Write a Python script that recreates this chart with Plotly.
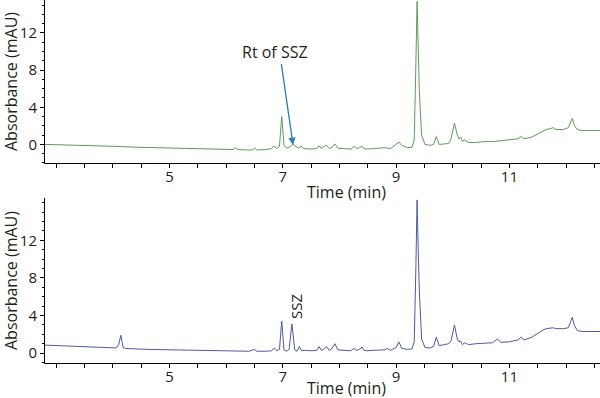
import plotly.graph_objects as go

# ---- data ----
t_top = [2.80, 3.20, 3.60, 4.00, 4.40, 4.80, 5.20, 5.60, 6.00, 6.12, 6.16, 6.20,
         6.40, 6.46, 6.50, 6.54, 6.70, 6.80, 6.85, 6.89, 6.94, 6.98, 7.02, 7.07,
         7.13, 7.18, 7.23, 7.28, 7.32, 7.36, 7.50, 7.60, 7.64, 7.68, 7.73, 7.77,
         7.82, 7.87, 7.92, 7.97, 8.05, 8.20, 8.26, 8.30, 8.35, 8.40, 8.43, 8.48,
         8.60, 8.80, 8.90, 9.00, 9.05, 9.10, 9.20, 9.28, 9.32, 9.35, 9.37, 9.39,
         9.41, 9.45, 9.51, 9.60, 9.66, 9.71, 9.76, 9.85, 9.93, 9.97, 10.03, 10.08,
         10.11, 10.14, 10.17, 10.21, 10.28, 10.40, 10.55, 10.70, 10.85, 11.00,
         11.15, 11.21, 11.26, 11.40, 11.50, 11.58, 11.65, 11.72, 11.77, 11.82,
         11.95, 12.04, 12.08, 12.11, 12.15, 12.20, 12.28, 12.60]
a_top = [0.00, -0.05, -0.15, -0.20, -0.30, -0.35, -0.40, -0.50, -0.55, -0.55, -0.35, -0.55,
         -0.60, -0.60, -0.40, -0.60, -0.55, -0.45, -0.15, -0.45, -0.20, 3.00, -0.10, -0.40,
         -0.25, 0.05, -0.25, -0.40, -0.15, -0.45, -0.50, -0.45, -0.15, -0.45, -0.20, -0.10,
         -0.45, -0.30, 0.05, -0.40, -0.45, -0.50, -0.20, -0.45, -0.35, -0.20, -0.45, -0.50,
         -0.45, -0.35, -0.45, 0.00, 0.25, -0.10, -0.35, -0.30, 0.50, 9.00, 15.40, 10.50,
         5.70, 1.00, 0.00, -0.10, 0.00, 0.85, 0.00, 0.05, 0.10, 0.60, 2.30, 1.00,
         0.60, 0.80, 0.30, 0.50, 0.20, 0.20, 0.30, 0.30, 0.40, 0.50,
         0.60, 0.85, 0.60, 0.80, 1.10, 1.40, 1.60, 1.70, 1.80, 1.60,
         1.60, 1.80, 2.40, 2.80, 2.00, 1.60, 1.50, 1.50]

t_bot = [2.80, 3.20, 3.60, 3.95, 4.06, 4.10, 4.14, 4.18, 4.22, 4.60, 5.00, 5.40,
         5.80, 6.20, 6.40, 6.50, 6.54, 6.70, 6.80, 6.85, 6.89, 6.94, 6.98, 7.02,
         7.07, 7.11, 7.16, 7.21, 7.25, 7.29, 7.33, 7.40, 7.50, 7.60, 7.64, 7.68,
         7.73, 7.77, 7.82, 7.87, 7.92, 7.97, 8.05, 8.20, 8.26, 8.30, 8.35, 8.40,
         8.43, 8.48, 8.60, 8.80, 8.84, 8.90, 9.00, 9.05, 9.10, 9.20, 9.28, 9.32,
         9.35, 9.37, 9.39, 9.41, 9.45, 9.51, 9.60, 9.66, 9.71, 9.76, 9.85, 9.93,
         9.97, 10.03, 10.08, 10.11, 10.14, 10.17, 10.21, 10.28, 10.40, 10.55, 10.70,
         10.79, 10.85, 11.00, 11.15, 11.21, 11.26, 11.40, 11.50, 11.58, 11.65, 11.72,
         11.77, 11.82, 11.95, 12.04, 12.08, 12.11, 12.15, 12.20, 12.28, 12.60]
a_bot = [0.85, 0.75, 0.65, 0.55, 0.55, 0.90, 1.90, 0.60, 0.50, 0.40, 0.35, 0.30,
         0.25, 0.20, 0.20, 0.40, 0.20, 0.20, 0.25, 0.55, 0.25, 0.40, 3.40, 0.35,
         0.20, 0.40, 3.10, 0.35, 0.20, 0.70, 0.25, 0.30, 0.25, 0.30, 0.70, 0.30,
         0.45, 0.70, 0.30, 0.50, 1.00, 0.35, 0.30, 0.25, 0.50, 0.30, 0.40, 0.65,
         0.30, 0.25, 0.30, 0.35, 0.50, 0.30, 0.60, 1.20, 0.50, 0.40, 0.45, 1.20,
         9.50, 16.30, 11.00, 6.70, 1.50, 0.60, 0.55, 0.70, 1.70, 0.80, 0.90, 1.00,
         1.30, 3.00, 1.50, 1.20, 1.30, 0.90, 1.10, 0.90, 1.00, 1.05, 1.10,
         1.50, 1.15, 1.20, 1.40, 1.70, 1.40, 1.70, 2.10, 2.40, 2.60, 2.70,
         2.70, 2.60, 2.60, 2.70, 3.40, 3.80, 2.90, 2.40, 2.30, 2.30]

y_ticks = [0, 4, 8, 12]
x_ticks = [5, 7, 9, 11]

FONT = "Open Sans"
TXT = "#231f20"

fig = go.Figure()
fig.add_trace(go.Scatter(x=t_top, y=a_top, mode="lines",
                         line=dict(color="#5f9a5c", width=1), xaxis="x", yaxis="y",
                         showlegend=False, hoverinfo="skip"))
fig.add_trace(go.Scatter(x=t_bot, y=a_bot, mode="lines",
                         line=dict(color="#4e5a9c", width=1), xaxis="x2", yaxis="y2",
                         showlegend=False, hoverinfo="skip"))

xcommon = dict(range=[2.8, 12.6], showline=True, linecolor="black", linewidth=1,
               automargin=False,
               ticks="outside", ticklen=4, tickcolor="black", tickvals=x_ticks,
               ticklabelstandoff=-4,
               minor=dict(dtick=0.5, tick0=3, ticks="outside", ticklen=4, tickcolor="black"),
               showgrid=False, zeroline=False,
               tickfont=dict(family=FONT, size=15, color=TXT))
ycommon = dict(showline=True, linecolor="black", linewidth=1,
               automargin=False,
               ticks="outside", ticklen=4, tickcolor="black", tickvals=y_ticks,
               minor=dict(dtick=1, tick0=0, ticks="outside", ticklen=2, tickcolor="black"),
               showgrid=False, zeroline=False,
               tickfont=dict(family=FONT, size=15, color=TXT),
               title=dict(text="Absorbance (mAU)", font=dict(family=FONT, size=16, color=TXT), standoff=2))

fig.update_layout(
    width=600, height=398, autosize=False,
    margin=dict(l=45, r=0, t=0, b=35),
    paper_bgcolor="white", plot_bgcolor="white",
    xaxis=dict(**xcommon, domain=[0, 1], anchor="y"),
    yaxis=dict(**ycommon, domain=[0.551, 1.0], range=[-2, 15.55], anchor="x"),
    xaxis2=dict(**xcommon, domain=[0, 1], anchor="y2"),
    yaxis2=dict(**ycommon, domain=[0.0, 0.4545], range=[-1.05, 16.5], anchor="x2"),
)

# x-axis titles (placed like the reference, slightly right of centre)
for ypos in (0.471, -0.069):
    fig.add_annotation(x=0.544, y=ypos, xref="paper", yref="paper", text="Time (min)",
                       showarrow=False, xanchor="center", yanchor="middle",
                       font=dict(family=FONT, size=16, color=TXT))

fig.add_annotation(x=7.18, y=-0.05, xref="x", yref="y", ax=6.97, ay=8.8,
                   axref="x", ayref="y", text="", showarrow=True,
                   arrowhead=2, arrowsize=1.1, arrowwidth=1.3, arrowcolor="#2b7bbd")
fig.add_annotation(x=6.86, y=9.97, xref="x", yref="y", text="Rt of SSZ", showarrow=False,
                   font=dict(family=FONT, size=16, color=TXT))
fig.add_annotation(x=7.23, y=5.0, xref="x2", yref="y2", text="SSZ", showarrow=False,
                   textangle=-90, font=dict(family=FONT, size=15, color=TXT))

fig.write_html("out.html", config={"displayModeBar": False},
               post_script="document.body.style.margin='0';document.body.style.overflow='hidden';")
